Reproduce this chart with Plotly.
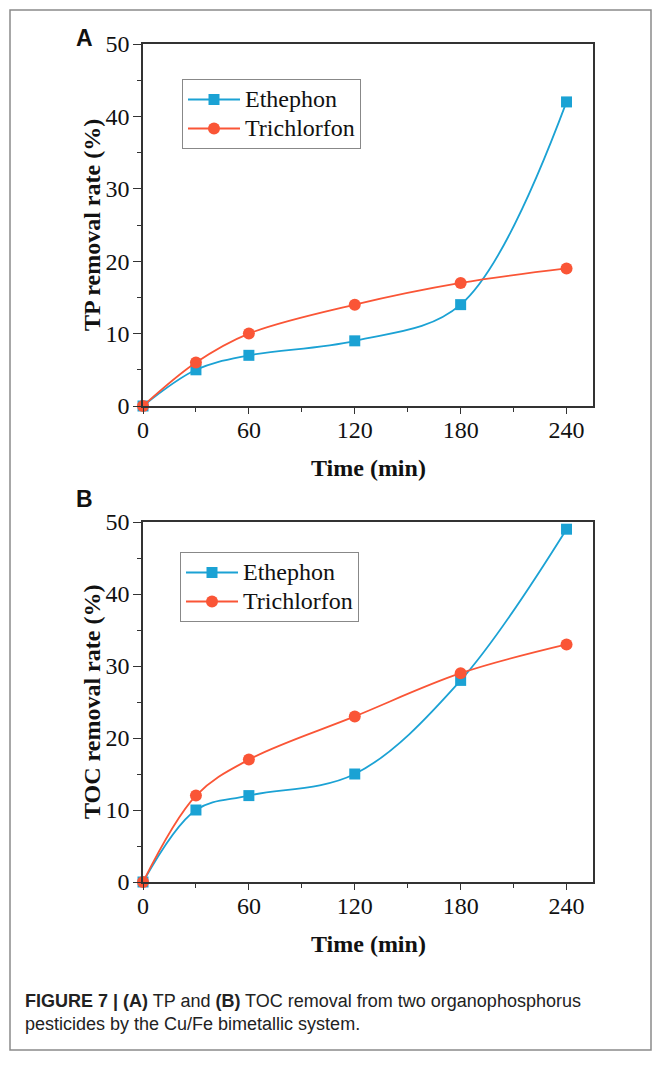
import plotly.graph_objects as go

time_min = [0, 30, 60, 120, 180, 240]
tp_ethephon = [0, 5, 7, 9, 14, 42]
tp_trichlorfon = [0, 6, 10, 14, 17, 19]
toc_ethephon = [0, 10, 12, 15, 28, 49]
toc_trichlorfon = [0, 12, 17, 23, 29, 33]
series_names = ["Ethephon", "Trichlorfon"]
x_ticks = [0, 60, 120, 180, 240]
y_ticks = [0, 10, 20, 30, 40, 50]

BLUE = "#1BA2D4"
RED = "#FA5536"
# the page body has an 8px default margin; lay the figure out in page coordinates
OFF = 8
W, H = 660 - OFF, 1066 - 2 * OFF
SERIF = "Liberation Serif, Times New Roman, serif"


def px(x):
    return (x - OFF) / W


def py(y):
    return 1 - (y - OFF) / H


fig = go.Figure()


def legend_name(n):
    return "<span style='font-size:24px'>" + n + "</span>"


def add_pair(eth, tri, xa, ya, legend):
    fig.add_trace(go.Scatter(x=time_min, y=eth, name=legend_name(series_names[0]),
                             mode="lines+markers",
                             line=dict(color=BLUE, width=1.8, shape="spline", smoothing=1.0),
                             marker=dict(symbol="square", size=11, color=BLUE),
                             xaxis=xa, yaxis=ya, legend=legend, cliponaxis=False))
    fig.add_trace(go.Scatter(x=time_min, y=tri, name=legend_name(series_names[1]),
                             mode="lines+markers",
                             line=dict(color=RED, width=1.8, shape="spline", smoothing=1.0),
                             marker=dict(symbol="circle", size=12, color=RED),
                             xaxis=xa, yaxis=ya, legend=legend, cliponaxis=False))


add_pair(tp_ethephon, tp_trichlorfon, "x", "y", "legend")
add_pair(toc_ethephon, toc_trichlorfon, "x2", "y2", "legend2")

tickfont = dict(family=SERIF, size=24, color="#111")
titlefont = dict(family=SERIF, size=24, color="#111")


def xaxis(domain, anchor):
    return dict(domain=domain, anchor=anchor, range=[0, 255], tickvals=x_ticks,
                showline=True, linecolor="#333", linewidth=1.5, mirror=True,
                ticks="outside", ticklen=6, tickwidth=1.2, tickcolor="#333",
                minor=dict(ticks="outside", ticklen=4, tickwidth=1.2, tickcolor="#333",
                           tickvals=[30, 90, 150, 210]),
                ticklabelstandoff=-5,
                showgrid=False, zeroline=False, tickfont=tickfont, automargin=False)


def yaxis(domain, anchor):
    return dict(domain=domain, anchor=anchor, range=[0, 50], tickvals=y_ticks,
                showline=True, linecolor="#333", linewidth=1.5, mirror=True,
                ticks="outside", ticklen=8, tickwidth=1.2, tickcolor="#333",
                minor=dict(ticks="outside", ticklen=4, tickwidth=1.2, tickcolor="#333",
                           tickvals=[5, 15, 25, 35, 45]),
                ticklabelstandoff=-1,
                showgrid=False, zeroline=False, tickfont=tickfont, automargin=False)


legend_style = dict(xanchor="left", yanchor="top", bgcolor="white", bordercolor="#888",
                    borderwidth=1, font=dict(family=SERIF, size=20, color="#111"),
                    tracegroupgap=0, itemwidth=52)

xd = [px(143), px(593)]
fig.update_layout(
    width=W, height=H, margin=dict(l=0, r=0, t=0, b=0, autoexpand=False),
    paper_bgcolor="white", plot_bgcolor="white",
    xaxis=xaxis(xd, "y"),
    yaxis=yaxis([py(406), py(44)], "x"),
    xaxis2=xaxis(xd, "y2"),
    yaxis2=yaxis([py(882), py(522)], "x2"),
    legend=dict(x=px(182), y=py(79), **legend_style),
    legend2=dict(x=px(180), y=py(552), **legend_style),
    showlegend=True,
)

# outer frame (right edge kept inside the visible page area)
fig.add_shape(type="rect", xref="paper", yref="paper",
              x0=px(10), x1=px(651), y0=py(1050), y1=py(10),
              line=dict(color="#8a8a8a", width=1.5), fillcolor="rgba(0,0,0,0)", layer="below")


def ann(text, x, y, font, angle=0, **kw):
    fig.add_annotation(text=text, xref="paper", yref="paper", x=px(x), y=py(y),
                       showarrow=False, font=font, textangle=angle, **kw)


panel_font = dict(family="Liberation Sans, Arial, sans-serif", size=23, color="#111")
ann("<b>A</b>", 84, 38, panel_font, xanchor="center", yanchor="middle")
ann("<b>B</b>", 84, 499, panel_font, xanchor="center", yanchor="middle")

ann("<b>TP removal rate (%)</b>", 92, 225, titlefont, angle=-90, xanchor="center", yanchor="middle")
ann("<b>TOC removal rate (%)</b>", 92, 702, titlefont, angle=-90, xanchor="center", yanchor="middle")
ann("<b>Time (min)</b>", 368, 468, titlefont, xanchor="center", yanchor="middle")
ann("<b>Time (min)</b>", 368, 944, titlefont, xanchor="center", yanchor="middle")

caption = ("<b>FIGURE 7 | (A)</b> TP and <b>(B)</b> TOC removal from two organophosphorus<br>"
           "pesticides by the Cu/Fe bimetallic system.")
ann(caption, 23, 989, dict(family="Liberation Sans, Arial, sans-serif", size=18, color="#222"),
    align="left", xanchor="left", yanchor="top")

fig.write_html("out.html")
